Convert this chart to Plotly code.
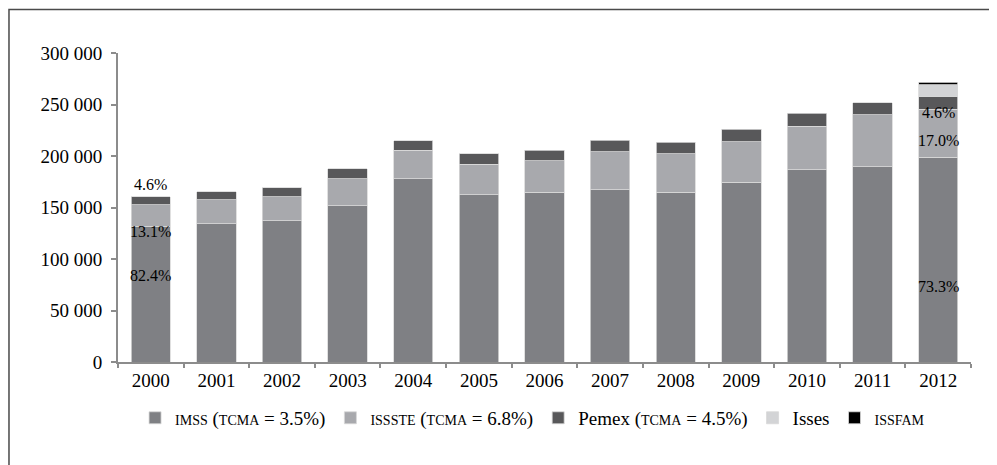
import plotly.graph_objects as go

years = ["2000", "2001", "2002", "2003", "2004", "2005", "2006",
         "2007", "2008", "2009", "2010", "2011", "2012"]
imss = [131800, 134300, 137200, 151800, 178000, 162500, 164800,
        167000, 164800, 174500, 186700, 189600, 198800]
issste = [21000, 23000, 23000, 25900, 27500, 29700, 30400,
          37200, 37400, 39100, 42100, 50500, 46500]
pemex = [7400, 7800, 9000, 10000, 9100, 9800, 10300,
         11300, 11100, 12300, 12700, 11400, 12200]
isses = [None] * 12 + [11600]
issfam = [None] * 12 + [2600]

series_names = [
    '<span style="font-size:14px">IMSS</span> (<span style="font-size:14px">TCMA</span> = 3.5%)',
    '<span style="font-size:14px">ISSSTE</span> (<span style="font-size:14px">TCMA</span> = 6.8%)',
    'Pemex (<span style="font-size:14px">TCMA</span> = 4.5%)',
    'Isses',
    '<span style="font-size:14px">ISSFAM</span>',
]
series_values = [imss, issste, pemex, isses, issfam]
series_colors = ["#7f8084", "#a8a9ad", "#58585a", "#d3d4d6", "#000000"]

pct_2000 = ["82.4%", "13.1%", "4.6%"]
pct_2012 = ["73.3%", "17.0%", "4.6%"]

FONT = "Liberation Serif, Times New Roman, serif"

fig = go.Figure()
for name, vals, col in zip(series_names, series_values, series_colors):
    fig.add_trace(go.Bar(
        x=years, y=vals, name=name,
        marker=dict(color=col, line=dict(color="#d8d8d8", width=0.8)),
    ))

i0 = 0
i1 = len(years) - 1
total_2000 = imss[i0] + issste[i0] + pemex[i0]
ann = [
    dict(x=i0, y=imss[i0] * 0.64, text=pct_2000[0], yshift=0),
    dict(x=i0, y=imss[i0], text=pct_2000[1], yshift=-5),
    dict(x=i0, y=total_2000, text=pct_2000[2], yshift=12),
    dict(x=i1, y=imss[i1] * 0.371, text=pct_2012[0], yshift=0),
    dict(x=i1, y=imss[i1] + issste[i1] * 0.34, text=pct_2012[1], yshift=0),
    dict(x=i1, y=imss[i1] + issste[i1], text=pct_2012[2], yshift=-3),
]
for a in ann:
    a.update(xref="x", yref="y", showarrow=False, yanchor="middle",
             xanchor="center", font=dict(family=FONT, size=16, color="#000000"))

fig.update_layout(
    width=997, height=465,
    margin=dict(l=110, r=34, t=45, b=111),
    paper_bgcolor="white", plot_bgcolor="white",
    barmode="stack", bargap=0.4,
    separators=". ",
    font=dict(family=FONT, size=18, color="#000"),
    annotations=ann,
    legend=dict(orientation="h", x=0.486, xanchor="center", y=-0.181,
                yanchor="middle", font=dict(family=FONT, size=19, color="#000"),
                traceorder="normal", itemwidth=30),
    shapes=[dict(type="rect", xref="paper", yref="paper",
                 x0=-0.1278, x1=1.0358, y0=-0.6, y1=1.1408,
                 line=dict(color="#4a4a4a", width=1.5), layer="above")],
)
fig.update_xaxes(type="category", range=[-0.5, len(years) - 0.5],
                 showline=True, linecolor="#8c8c8c", linewidth=2,
                 ticks="outside", tickson="boundaries", ticklen=4, tickcolor="#8c8c8c",
                 tickwidth=1.5, showgrid=False, tickfont=dict(size=19), tickangle=0)
fig.update_yaxes(range=[0, 300000], dtick=50000, tickformat=",d", showline=True,
                 linecolor="#8c8c8c", linewidth=2, ticks="outside", ticklen=5,
                 tickcolor="#8c8c8c", tickwidth=1.5, showgrid=False, zeroline=False,
                 tickfont=dict(size=19), ticklabelstandoff=5)

fig.write_html("out.html")
